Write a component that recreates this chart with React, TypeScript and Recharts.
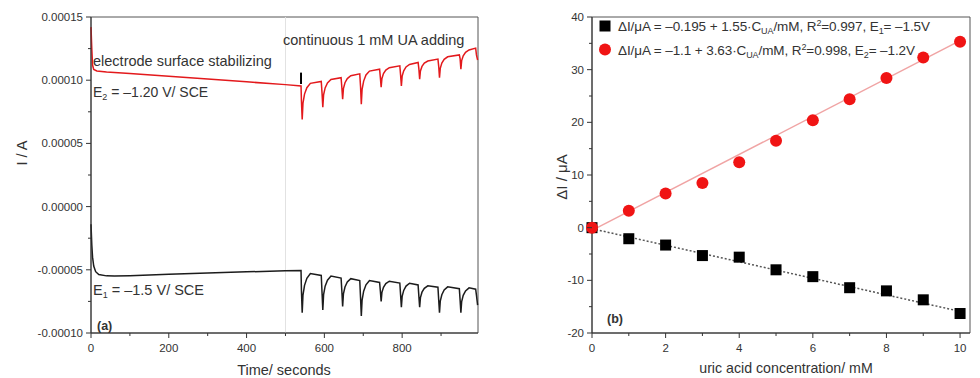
import React from 'react';
import {
  LineChart,
  Line,
  ComposedChart,
  Scatter,
  XAxis,
  YAxis,
  ReferenceArea,
  ReferenceLine,
  Legend,
} from 'recharts';

const FONT = '"Liberation Sans", Arial, sans-serif';
const INK = '#333';

// ---- (a) current vs time, values in µA ----
const redTrace: [number, number][] = [
  [0, 142], [2, 125], [4, 112], [7, 108.5], [15, 107.3], [40, 106.5], [100, 105.3], [200, 103.2],
  [300, 101], [400, 98.7], [500, 96.5], [540, 95.5],
  [541, 84], [543, 69], [545, 81.8], [549, 89], [555, 94.1], [564, 97.5], [592, 99],
  [594, 90], [596, 78.6], [598, 88.5], [602, 93.9], [608, 97.9], [617, 100.5], [643, 102],
  [645, 94], [647, 85], [649, 93.3], [653, 98], [659, 101.3], [668, 103.5], [691, 105],
  [693, 95], [695, 81], [697, 92.8], [701, 99.3], [707, 104.1], [716, 107.2], [742, 108.7],
  [744, 102], [746, 94.4], [748, 101.4], [752, 105.3], [758, 108], [767, 109.9], [794, 111.4],
  [796, 104], [798, 95.5], [800, 103.2], [804, 107.4], [810, 110.5], [819, 112.5], [841, 114],
  [843, 109], [845, 100.8], [847, 107.3], [851, 110.9], [857, 113.5], [866, 115.2], [892, 116.7],
  [894, 111], [896, 102], [898, 109.4], [902, 113.6], [908, 116.5], [917, 118.5], [947, 120],
  [949, 117], [951, 108.7], [953, 115.5], [957, 119.3], [963, 122.1], [972, 123.9], [989, 125.4],
  [991, 120], [994, 116],
];

const blackTrace: [number, number][] = [
  [0, -14], [2, -30], [4, -40], [7, -47], [12, -51.5], [20, -53.8], [40, -54.8], [60, -55],
  [100, -54.7], [200, -53.6], [300, -52.6], [400, -51.6], [500, -50.8], [540, -50.5],
  [541, -66], [543, -84], [545, -70], [549, -62.3], [555, -56.7], [564, -53], [592, -54.5],
  [594, -68], [596, -81.7], [598, -69.7], [602, -63], [608, -58.2], [617, -55], [643, -56.5],
  [645, -67], [647, -79], [649, -69.1], [653, -63.6], [659, -59.6], [668, -57], [691, -58.5],
  [693, -72], [695, -86.5], [697, -73.9], [701, -66.9], [707, -61.9], [716, -58.5], [742, -60],
  [744, -67], [746, -75], [748, -67.8], [752, -63.8], [758, -60.9], [767, -59], [794, -60.5],
  [796, -70], [798, -79.6], [800, -71], [804, -66.3], [810, -62.9], [819, -60.6], [841, -62],
  [843, -71], [845, -79.5], [847, -72], [851, -67.7], [857, -64.7], [866, -62.7], [892, -63.8],
  [894, -74], [896, -84], [898, -74.8], [902, -69.7], [908, -65.9], [917, -63.5], [947, -65],
  [949, -74], [951, -84], [953, -75.1], [957, -70.2], [963, -66.7], [972, -64.3], [989, -65.3],
  [991, -70], [994, -78],
];

const timeTicks = [0, 100, 200, 300, 400, 500, 600, 700, 800, 900];
const timeLabels = [0, 200, 400, 600, 800];
const currentTicks = [-100, -75, -50, -25, 0, 25, 50, 75, 100, 125, 150];
const currentLabels = [-100, -50, 0, 50, 100, 150];

// ---- (b) calibration ----
const concentration = [0, 1, 2, 3, 4, 5, 6, 7, 8, 9, 10];
const deltaE2 = [0, 3.2, 6.5, 8.5, 12.4, 16.5, 20.4, 24.4, 28.4, 32.3, 35.3];
const deltaE1 = [0, -2.1, -3.3, -5.3, -5.6, -8.0, -9.3, -11.4, -12.0, -13.7, -16.3];
const fitE2: [number, number][] = [[0, -0.5], [10, 35.5]];
const fitE1: [number, number][] = [[0, -0.2], [10, -15.9]];
const concTicks = [0, 1, 2, 3, 4, 5, 6, 7, 8, 9, 10];
const concLabels = [0, 2, 4, 6, 8, 10];
const deltaTicks = [-20, -15, -10, -5, 0, 5, 10, 15, 20, 25, 30, 35, 40];
const deltaLabels = [-20, -10, 0, 10, 20, 30, 40];

const red = redTrace.map(([t, i]) => ({ t, i }));
const black = blackTrace.map(([t, i]) => ({ t, i }));
const ptsE2 = concentration.map((x, k) => ({ x, y: deltaE2[k] }));
const ptsE1 = concentration.map((x, k) => ({ x, y: deltaE1[k] }));
const lineE2 = fitE2.map(([x, y]) => ({ x, y }));
const lineE1 = fitE1.map(([x, y]) => ({ x, y }));

const tickText = { fontFamily: FONT, fontSize: 11.5, fill: INK };

const xTick = (labels: number[]) => (p: any) => {
  const major = labels.includes(p.payload.value);
  return (
    <g>
      <line x1={p.x} x2={p.x} y1={p.y} y2={p.y + (major ? 5 : 3)} stroke={INK} />
      {major && (
        <text x={p.x} y={p.y + 19} textAnchor="middle" style={tickText}>
          {p.payload.value}
        </text>
      )}
    </g>
  );
};

const yTick = (labels: number[], fmt: (v: number) => string) => (p: any) => {
  const major = labels.includes(p.payload.value);
  return (
    <g>
      <line x1={p.x} x2={p.x - (major ? 5 : 3)} y1={p.y} y2={p.y} stroke={INK} />
      {major && (
        <text x={p.x - 8} y={p.y + 4} textAnchor="end" style={tickText}>
          {fmt(p.payload.value)}
        </text>
      )}
    </g>
  );
};

const fmtAmp = (v: number) => (v / 1e6).toFixed(5);

const Square = (p: any) => <rect x={p.cx - 5.5} y={p.cy - 5.5} width={11} height={11} fill="#000" />;
const Dot = (p: any) => <circle cx={p.cx} cy={p.cy} r={6} fill="#f01414" />;

const CalibLegend = () => (
  <svg width={370} height={50} style={{ display: 'block', overflow: 'visible' }}>
    <g style={{ fontFamily: FONT, fontSize: 13.5, fill: INK }}>
      <rect x={0.5} y={6.5} width={11} height={11} fill="#000" />
      <text x={19} y={17} textLength={312} lengthAdjust="spacing">
        ΔI/μA = –0.195 + 1.55·C<tspan fontSize={9} dy={3}>UA</tspan>
        <tspan dy={-3}>/mM, R</tspan>
        <tspan fontSize={9} dy={-5}>2</tspan>
        <tspan dy={5}>=0.997, E</tspan>
        <tspan fontSize={9} dy={3}>1</tspan>
        <tspan dy={-3}>= –1.5V</tspan>
      </text>
      <circle cx={6} cy={35.5} r={6} fill="#f01414" />
      <text x={19} y={40.5} textLength={297} lengthAdjust="spacing">
        ΔI/μA = –1.1 + 3.63·C<tspan fontSize={9} dy={3}>UA</tspan>
        <tspan dy={-3}>/mM, R</tspan>
        <tspan fontSize={9} dy={-5}>2</tspan>
        <tspan dy={5}>=0.998, E</tspan>
        <tspan fontSize={9} dy={3}>2</tspan>
        <tspan dy={-3}>= –1.2V</tspan>
      </text>
    </g>
  </svg>
);

const label = { fontFamily: FONT, fill: INK };

export default function App() {
  return (
    <div style={{ position: 'absolute', left: 0, top: 0, width: 980, height: 378, background: '#fff' }}>
      <div style={{ position: 'absolute', left: 0, top: 0 }}>
        <LineChart width={490} height={378} margin={{ top: 17, right: 12, bottom: 0, left: 0 }}>
          <XAxis
            type="number"
            dataKey="t"
            domain={[0, 995]}
            ticks={timeTicks}
            interval={0}
            height={45}
            tickSize={0}
            tickMargin={0}
            tickLine={false}
            stroke={INK}
            tick={xTick(timeLabels)}
          />
          <YAxis
            type="number"
            domain={[-100, 150]}
            ticks={currentTicks}
            interval={0}
            width={91}
            tickSize={0}
            tickMargin={0}
            tickLine={false}
            stroke={INK}
            tick={yTick(currentLabels, fmtAmp)}
          />
          <ReferenceArea x1={0} x2={995} y1={-100} y2={150} fill="none" stroke="#555" />
          <ReferenceLine x={500} stroke="#e2e2e2" />
          <Line data={black} dataKey="i" stroke="#1c1c1c" strokeWidth={1.5} dot={false} isAnimationActive={false} />
          <Line data={red} dataKey="i" stroke="#e3191c" strokeWidth={1.5} dot={false} isAnimationActive={false} />
          <ReferenceLine segment={[{ x: 540, y: 106 }, { x: 540, y: 97 }]} stroke="#000" strokeWidth={2} />
        </LineChart>
      </div>
      <div style={{ position: 'absolute', left: 490, top: 0 }}>
        <ComposedChart width={490} height={378} margin={{ top: 17, right: 10, bottom: 0, left: 0 }}>
          <XAxis
            type="number"
            dataKey="x"
            domain={[0, 10.27]}
            ticks={concTicks}
            interval={0}
            height={45}
            tickSize={0}
            tickMargin={0}
            tickLine={false}
            stroke={INK}
            tick={xTick(concLabels)}
          />
          <YAxis
            type="number"
            domain={[-20, 40]}
            ticks={deltaTicks}
            interval={0}
            width={102}
            tickSize={0}
            tickMargin={0}
            tickLine={false}
            stroke={INK}
            tick={yTick(deltaLabels, (v) => String(v))}
          />
          <ReferenceArea x1={0} x2={10.27} y1={-20} y2={40} fill="none" stroke="#555" />
          <Line data={lineE1} dataKey="y" stroke="#555" strokeWidth={1.5} strokeDasharray="2 2" dot={false} isAnimationActive={false} />
          <Line data={lineE2} dataKey="y" stroke="#f0a4a4" strokeWidth={1.5} dot={false} isAnimationActive={false} />
          <Scatter data={ptsE1} dataKey="y" shape={Square} isAnimationActive={false} />
          <Scatter data={ptsE2} dataKey="y" shape={Dot} isAnimationActive={false} />
          <Legend
            layout="horizontal"
            verticalAlign="middle"
            align="center"
            content={<CalibLegend />}
            wrapperStyle={{ left: 109, top: 14, width: 370, height: 50 }}
          />
        </ComposedChart>
      </div>
      <svg width={980} height={378} style={{ position: 'absolute', left: 0, top: 0, pointerEvents: 'none' }}>
        <text x={283} y={45} fontSize={14.5} style={label}>continuous 1 mM UA adding</text>
        <text x={93} y={66} fontSize={14.5} style={label}>electrode surface stabilizing</text>
        <text x={93} y={97} fontSize={14} style={label}>
          E<tspan fontSize={9} dy={3}>2</tspan><tspan dy={-3}> = –1.20 V/ SCE</tspan>
        </text>
        <text x={93} y={295} fontSize={14.5} style={label}>
          E<tspan fontSize={9} dy={3}>1</tspan><tspan dy={-3}> = –1.5 V/ SCE</tspan>
        </text>
        <text x={97} y={330} fontSize={12.5} fontWeight="bold" style={label}>(a)</text>
        <text x={607} y={323} fontSize={12.5} fontWeight="bold" style={label}>(b)</text>
        <text x={0} y={0} fontSize={14.5} textAnchor="middle" transform="translate(27,153) rotate(-90)" style={label}>I / A</text>
        <text x={284} y={375} fontSize={14.5} textAnchor="middle" style={label}>Time/ seconds</text>
        <text x={0} y={0} fontSize={15} textAnchor="middle" transform="translate(567,177) rotate(-90)" style={label}>ΔI / μA</text>
        <text x={786} y={373} fontSize={14.2} textAnchor="middle" style={label}>uric acid concentration/ mM</text>
      </svg>
    </div>
  );
}
